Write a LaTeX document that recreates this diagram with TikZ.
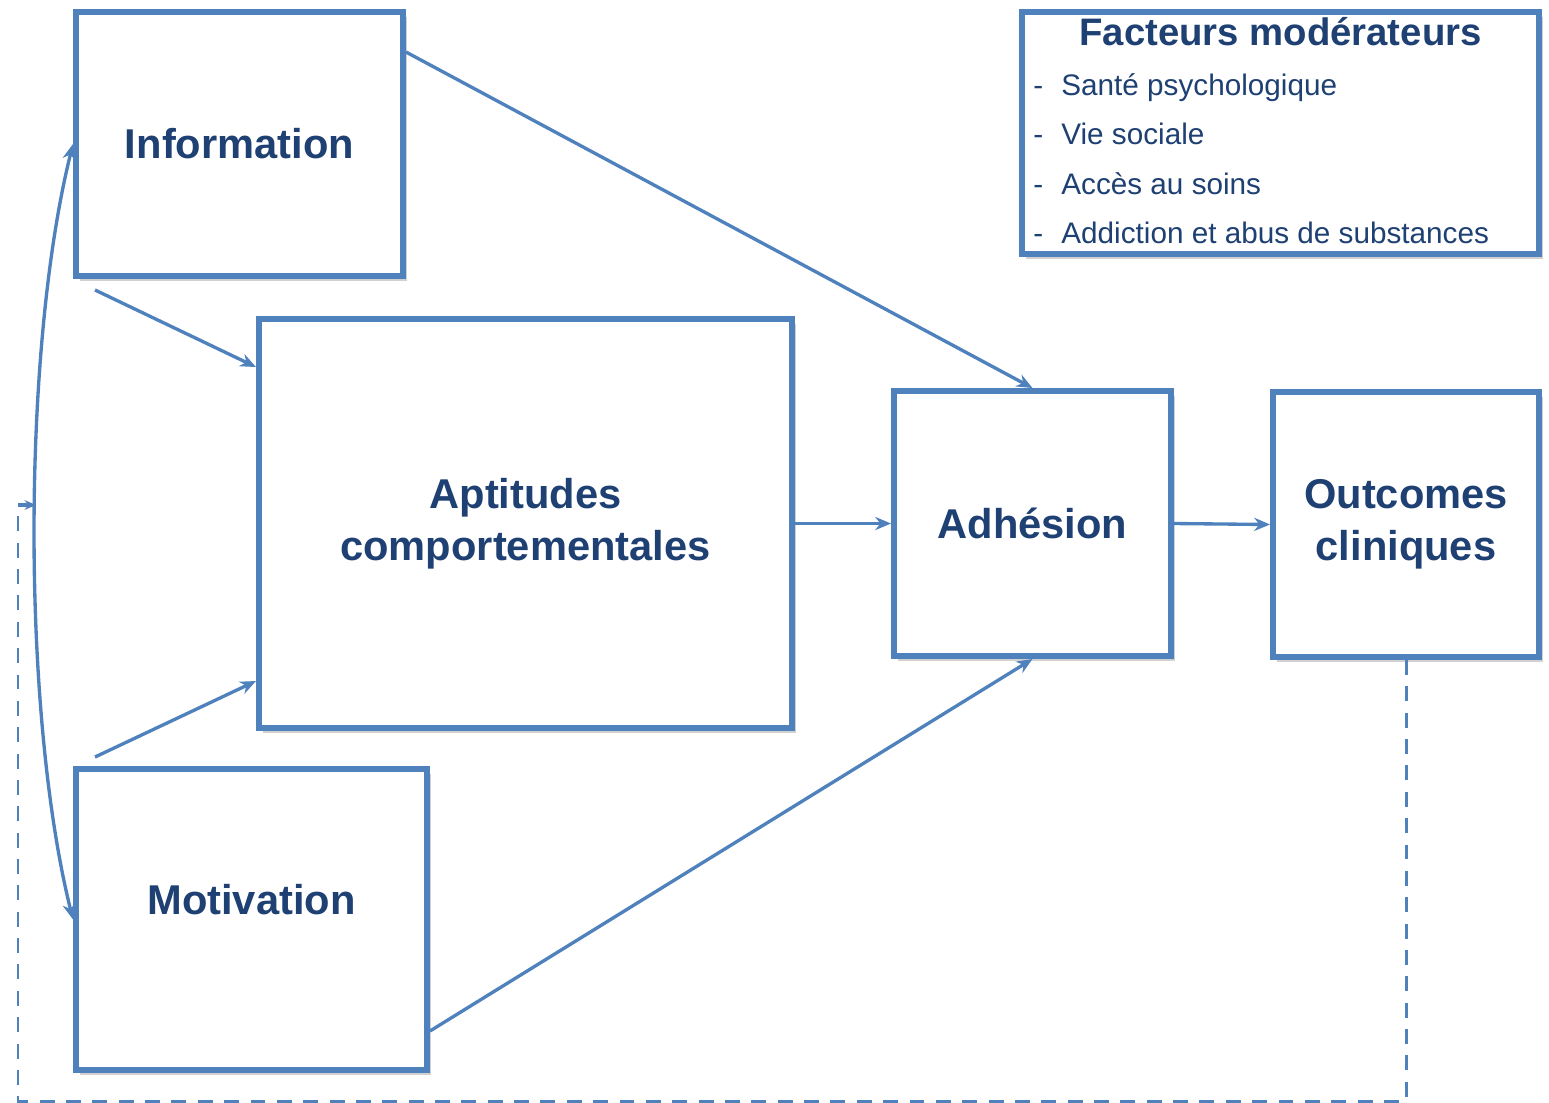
\documentclass[tikz,border=0pt]{standalone}
\usepackage{fontspec}
\setmainfont{Liberation Sans}
\usetikzlibrary{arrows.meta, positioning, calc, shadows}
\definecolor{boxblue}{RGB}{79,129,189}
\definecolor{txtblue}{RGB}{30,64,115}

\begin{document}
\begin{tikzpicture}[
    box/.style={rectangle, draw=boxblue, line width=3.4pt, fill=white, inner sep=0pt,
        drop shadow={shadow xshift=2pt, shadow yshift=-3pt, opacity=0.3, fill=black!60},
        text=txtblue, font=\fontsize{23.7}{29.6}\selectfont\bfseries, align=center},
    link/.style={draw=boxblue, line width=1.9pt, -{Stealth[length=9pt, width=7.5pt]}},
    fback/.style={draw=boxblue, line width=1.7pt, dash pattern=on 8.5pt off 6.5pt},
    item/.style={anchor=base west, inner sep=0pt, text=txtblue, font=\fontsize{16.9}{20}\selectfont}
]
\useasboundingbox (0,0) rectangle (30.98,-22.04);

% boxes
\node[box, minimum width=6.54cm, minimum height=5.28cm] (info) at (4.79,-2.88) {Information};
\node[box, minimum width=10.66cm, minimum height=8.18cm] (apt) at (10.51,-10.47) {Aptitudes\\comportementales};
\node[box, minimum width=5.54cm, minimum height=5.30cm] (adh) at (20.65,-10.47) {Adhésion};
\node[box, minimum width=5.32cm, minimum height=5.30cm] (out) at (28.12,-10.49) {Outcomes\\cliniques};
\node[box, minimum width=7.02cm, minimum height=6.02cm] (mot) at (5.03,-18.39) {};
\node[text=txtblue, font=\fontsize{23.7}{29.6}\selectfont\bfseries] (motlbl) at ([yshift=0.39cm]mot.center) {Motivation};

% facteurs moderateurs
\node[box, minimum width=10.34cm, minimum height=4.84cm] (fac) at (25.61,-2.66) {};
\node[anchor=base, inner sep=0pt, text=txtblue, font=\fontsize{21.8}{26}\selectfont\bfseries] (factitle)
    at ([yshift=-0.72cm]fac.north) {Facteurs modérateurs};
\foreach \txt [count=\i] in {Santé psychologique, Vie sociale, Accès au soins, Addiction et abus de substances} {
    \node[item] at ($(fac.north west)+(0.28,-0.73-0.99*\i)$) {-};
    \node[item] (fac\i) at ($(fac.north west)+(0.84,-0.73-0.99*\i)$) {\txt};
}

% arrows
\draw[link] ([shift={(0.44,-0.22)}]info.south west) -- ([yshift=-1.02cm]apt.north west);
\draw[link] ([yshift=-0.86cm]info.north east) -- (adh.north);
\draw[link] ([shift={(0.44,0.18)}]mot.north west) -- ([yshift=1.0cm]apt.south west);
\draw[link] ([yshift=0.84cm]mot.south east) -- (adh.south);
\draw[link] (apt.east) -- (adh.west);
\draw[link] (adh.east) -- (out.west);
\draw[link, {Stealth[length=9pt, width=7.5pt]}-{Stealth[length=9pt, width=7.5pt]}]
    (info.west) to[out=256, in=104, looseness=0.7] (mot.west);

% feedback
\coordinate (fbl) at (0.36,-22.02);
\coordinate (fbc) at (0.36,-10.1);
\coordinate (fbin) at (0.72,-10.1);
\draw[fback] (out.south) |- (fbl) -- (fbc);
\draw[link, -{Stealth[length=6.5pt, width=5.5pt]}] (fbc) -- (fbin);
\end{tikzpicture}
\end{document}
